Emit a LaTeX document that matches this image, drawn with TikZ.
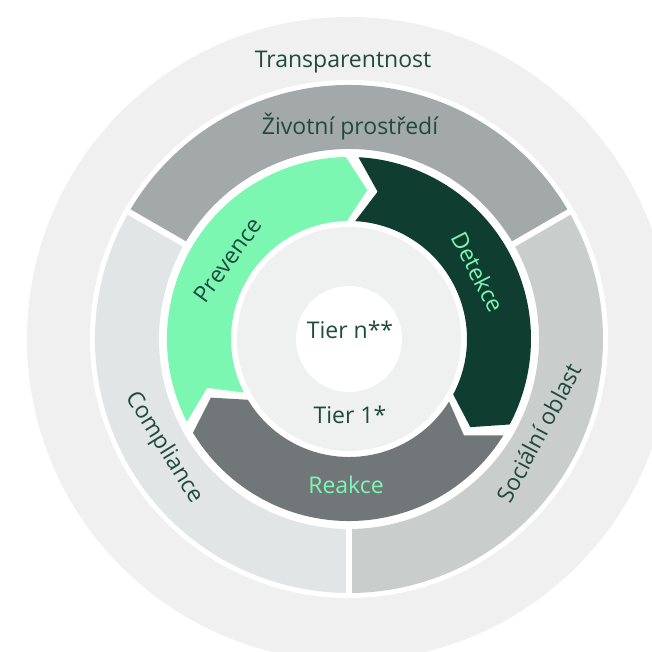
\documentclass[tikz,border=0pt]{standalone}
\usepackage{fontspec}
\setmainfont{Open Sans}
\definecolor{outerc}{HTML}{F0F0F0}
\definecolor{zivc}{HTML}{A3A8A9}
\definecolor{socc}{HTML}{C9CECD}
\definecolor{compc}{HTML}{E2E5E5}
\definecolor{prevc}{HTML}{7CF7B1}
\definecolor{detc}{HTML}{0F3D30}
\definecolor{reakc}{HTML}{717778}
\definecolor{innerc}{HTML}{EFF1F0}
\definecolor{txtdark}{HTML}{1F4A3D}
\newcommand{\arrowseg}[3]{%
  \fill[#3] ({#1-2}:182pt) arc[start angle={#1-2}, end angle={#2+2}, radius=182pt]
    -- ({#2-6}:150pt) -- ({#2+2}:118pt)
    arc[start angle={#2+2}, end angle={#1-2}, radius=118pt]
    -- ({#1-10}:150pt) -- cycle;}
\newcommand{\ringseg}[3]{%
  \fill[#3] (#1:190pt) -- (#1:254pt) arc[start angle=#1, end angle=#2, radius=254pt]
    -- (#2:190pt) arc[start angle=#2, end angle=#1, radius=190pt] -- cycle;}
\begin{document}
\begin{tikzpicture}[x=1pt,y=1pt,
  lbl/.style={font=\fontsize{23}{27}\selectfont, text=txtdark, inner sep=0pt},
  sep/.style={white, line width=6pt}]
\useasboundingbox (-349,-313) rectangle (303,339);
\fill[white] (-349,-313) rectangle (303,339);
\fill[outerc] (0,0) circle[radius=322pt];
\fill[white] (0,0) circle[radius=259pt];
% middle ring
\ringseg{30}{150}{zivc}
\ringseg{-90}{30}{socc}
\ringseg{150}{270}{compc}
\draw[sep] (30:186pt) -- (30:257pt);
\draw[sep] (150:186pt) -- (150:257pt);
\draw[sep] (270:186pt) -- (270:257pt);
% cycle arrows
\arrowseg{209}{89}{prevc}
\arrowseg{89}{-30}{detc}
\arrowseg{-30}{-151}{reakc}
% inner discs
\fill[innerc] (0,0) circle[radius=112pt];
\fill[white] (0,0) circle[radius=53pt];
% labels
\node[lbl, anchor=base] (transp) at (-6,271) {Transparentnost};
\node[lbl, anchor=base] (ziv) at (1,204) {Životní prostředí};
\node[lbl, anchor=base] (tiern) at (1,0) {Tier n**};
\node[lbl, anchor=base] (tier1) at (1,-85) {Tier 1*};
\node[lbl, anchor=base, text=prevc] (reak) at (-3,-154) {Reakce};
\node[lbl, rotate=54] (prev) at (-121,79) {Prevence};
\node[lbl, rotate=-63, text=prevc] (det) at (129,67) {Detekce};
\node[lbl, rotate=-58] (comp) at (-185,-109) {Compliance};
\node[lbl, rotate=62] (soc) at (190,-94) {Sociální oblast};
\end{tikzpicture}
\end{document}
